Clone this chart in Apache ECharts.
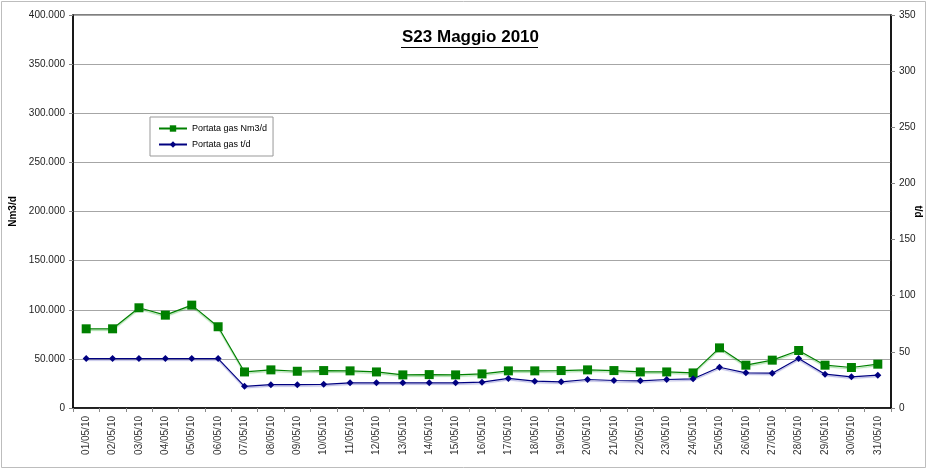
<!DOCTYPE html>
<html><head><meta charset="utf-8">
<script src="https://cdn.jsdelivr.net/npm/echarts@6/dist/echarts.min.js"></script>
<style>html,body{margin:0;padding:0;background:#fff}#c{width:928px;height:470px}</style>
</head><body><div id="c"></div>
<script>
const categories = ["01/05/10","02/05/10","03/05/10","04/05/10","05/05/10","06/05/10","07/05/10","08/05/10","09/05/10","10/05/10","11/05/10","12/05/10","13/05/10","14/05/10","15/05/10","16/05/10","17/05/10","18/05/10","19/05/10","20/05/10","21/05/10","22/05/10","23/05/10","24/05/10","25/05/10","26/05/10","27/05/10","28/05/10","29/05/10","30/05/10","31/05/10"];
const nm3d = [80600,80600,102000,94500,104700,82700,36700,38800,37400,38100,37800,36700,33700,34000,33700,34700,37800,37800,38100,38800,38100,36700,36700,35700,61200,43600,48700,58500,43600,41200,44600];
const td = [44,44,44,44,44,44,19.3,20.8,20.8,21.1,22.4,22.4,22.4,22.4,22.4,23.0,26.3,23.9,23.3,25.4,24.5,24.2,25.4,26.0,36.3,31.3,31.0,44.1,30.1,27.8,29.2];
const leftTicks = {min:0,max:400000,interval:50000};
const rightTicks = {min:0,max:350,interval:50};

const font = '"Liberation Sans", Arial, sans-serif';
const chart = echarts.init(document.getElementById('c'), null, {renderer:'canvas'});
function fmtThousands(v){ return v===0 ? '0' : v.toLocaleString('en-US').replace(/,/g,'.'); }
chart.setOption({
  animation:false,
  backgroundColor:'#fff',
  title:{text:'S23 Maggio 2010',left:402,top:29,padding:0,
    textStyle:{fontFamily:font,fontSize:17,fontWeight:'bold',color:'#000'}},
  graphic:[
    {type:'rect',shape:{x:1.5,y:1.5,width:924,height:466},style:{fill:'none',stroke:'#bdbdbd',lineWidth:1},silent:true,z:-10},
    {type:'line',shape:{x1:401,y1:47.5,x2:538,y2:47.5},style:{stroke:'#000',lineWidth:1.2},silent:true}
  ],
  legend:{orient:'vertical',left:150,top:117,itemGap:7,itemWidth:28,itemHeight:8,
    padding:[7,6,7,8],borderColor:'#999',borderWidth:1,
    textStyle:{fontFamily:font,fontSize:9,color:'#000'},
    data:['Portata gas Nm3/d','Portata gas t/d']},
  grid:{left:73,right:37,top:15,bottom:62,outerBoundsMode:'none',containLabel:false,show:true,borderColor:'#000',borderWidth:1.2},
  xAxis:{type:'category',data:categories,boundaryGap:true,
    axisLine:{lineStyle:{color:'#000',width:1.5}},
    axisTick:{show:true,interval:0,length:4,lineStyle:{color:'#888'}},
    axisLabel:{rotate:90,interval:0,fontFamily:font,fontSize:10,color:'#333',margin:8}},
  yAxis:[
    {type:'value',min:leftTicks.min,max:leftTicks.max,interval:leftTicks.interval,position:'left',
     name:'Nm3/d',nameLocation:'middle',nameRotate:90,nameGap:55,
     nameTextStyle:{fontFamily:font,fontSize:10,fontWeight:'bold',color:'#000'},
     axisLine:{show:true,lineStyle:{color:'#000',width:1.5}},
     axisTick:{show:true,length:4,lineStyle:{color:'#888'}},
     axisLabel:{fontFamily:font,fontSize:10,color:'#222',margin:8,formatter:fmtThousands},
     splitLine:{show:true,lineStyle:{color:'#a6a6a6',width:1}}},
    {type:'value',min:rightTicks.min,max:rightTicks.max,interval:rightTicks.interval,position:'right',
     name:'t/d',nameLocation:'middle',nameRotate:-90,nameGap:22,nameMoveOverlap:false,
     nameTextStyle:{fontFamily:font,fontSize:10,fontWeight:'bold',color:'#000'},
     axisLine:{show:true,lineStyle:{color:'#000',width:1.5}},
     axisTick:{show:true,length:4,lineStyle:{color:'#888'}},
     axisLabel:{fontFamily:font,fontSize:10,color:'#222',margin:8},
     splitLine:{show:false}}
  ],
  series:[
    {name:'Portata gas Nm3/d',type:'line',yAxisIndex:0,data:nm3d,
     symbol:'rect',symbolSize:9,itemStyle:{color:'#008000'},
     lineStyle:{color:'#008000',width:1.2,shadowColor:'rgba(0,160,0,0.35)',shadowOffsetY:1.5,shadowBlur:1}},
    {name:'Portata gas t/d',type:'line',yAxisIndex:1,data:td,
     symbol:'diamond',symbolSize:7,itemStyle:{color:'#000080'},
     lineStyle:{color:'#000080',width:1.2,shadowColor:'rgba(0,0,160,0.3)',shadowOffsetY:1.5,shadowBlur:1}}
  ]
});
</script></body></html>
